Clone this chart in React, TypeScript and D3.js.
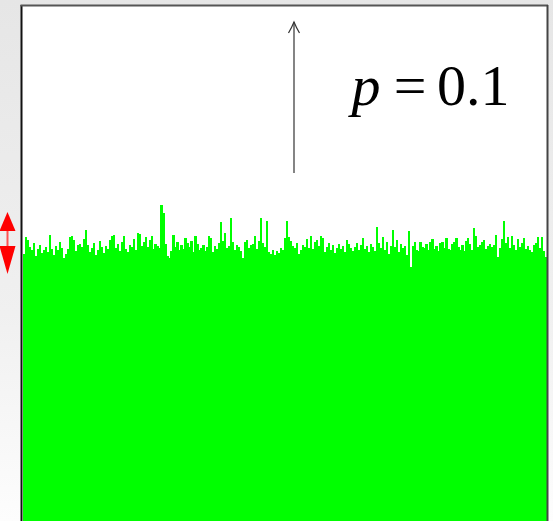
import React from "react";
import * as d3 from "d3";

// Interface height profile h(x), one value per column (2 px columns across the box)
const heights: number[] = [
  267, 284, 281, 274, 271, 278, 265, 272, 276, 268,
  271, 274, 269, 286, 272, 266, 275, 271, 279, 273,
  263, 267, 272, 284, 285, 281, 270, 276, 277, 274,
  282, 291, 276, 269, 273, 278, 266, 271, 280, 274,
  268, 275, 272, 281, 285, 286, 273, 277, 270, 279,
  285, 272, 269, 276, 274, 282, 271, 288, 287, 275,
  279, 284, 274, 281, 285, 272, 277, 275, 273, 316,
  308, 277, 265, 263, 270, 286, 274, 279, 271, 276,
  272, 283, 278, 274, 280, 269, 285, 277, 271, 273,
  276, 270, 274, 285, 283, 269, 275, 272, 278, 299,
  280, 288, 273, 275, 303, 279, 271, 276, 274, 270,
  263, 279, 281, 273, 276, 277, 285, 272, 280, 303,
  278, 274, 300, 269, 267, 271, 266, 270, 268, 273,
  271, 283, 300, 284, 280, 275, 273, 278, 267, 271,
  276, 274, 282, 273, 285, 272, 279, 281, 275, 285,
  283, 269, 274, 278, 271, 276, 268, 273, 277, 272,
  275, 269, 281, 277, 273, 270, 274, 278, 271, 276,
  283, 272, 275, 269, 277, 274, 270, 294, 278, 273,
  284, 271, 279, 267, 275, 291, 274, 281, 269, 277,
  273, 275, 266, 290, 254, 275, 279, 271, 270, 279,
  274, 273, 277, 271, 279, 282, 272, 275, 270, 278,
  279, 273, 283, 272, 271, 277, 279, 283, 274, 271,
  276, 270, 280, 283, 277, 271, 293, 285, 274, 276,
  279, 281, 272, 275, 277, 274, 276, 286, 264, 273,
  282, 300, 278, 284, 273, 285, 276, 271, 282, 274,
  278, 283, 272, 275, 271, 269, 276, 278, 284, 273,
  284, 270, 264,
];

const labelVariable = "p";
const labelOp = "=";
const labelValue = "0.1";

const W = 553;
const H = 521;
const box = { left: 22, right: 547, top: 5, bottom: 521 };

const SERIF =
  "'Times New Roman', Times, 'Liberation Serif', Tinos, 'DejaVu Serif', 'Noto Serif', FreeSerif, 'Nimbus Roman', Georgia, serif";

export default function App() {
  const x = d3
    .scaleBand<number>()
    .domain(d3.range(heights.length))
    .range([box.left + 1, box.right])
    .padding(0);
  const y = d3.scaleLinear().domain([0, 516]).range([box.bottom, box.top]);

  return (
    <div style={{ position: "absolute", left: 0, top: 0 }}>
      <svg width={W} height={H} viewBox={`0 0 ${W} ${H}`} style={{ display: "block" }}>
        <defs>
          <linearGradient id="bg" x1="0" y1="0" x2="0" y2="1">
            <stop offset="0" stopColor="#e6e6e6" />
            <stop offset="0.6" stopColor="#f0f0f0" />
            <stop offset="1" stopColor="#fdfdfd" />
          </linearGradient>
        </defs>
        <rect x={0} y={0} width={W} height={H} fill="url(#bg)" />
        <rect x={box.left} y={box.top} width={box.right - box.left} height={H - box.top} fill="#ffffff" />

        {/* interface columns */}
        <g shapeRendering="crispEdges">
          {heights.map((h, i) => (
            <rect
              key={i}
              x={x(i)!}
              y={y(h)}
              width={x.bandwidth() + 0.2}
              height={box.bottom - y(h)}
              fill="#00ff00"
            />
          ))}
        </g>

        {/* frame */}
        <line x1={box.left - 0.5} y1={box.top} x2={box.left - 0.5} y2={H} stroke="#111" strokeWidth={2} />
        <line x1={box.left - 1.5} y1={box.top + 0.5} x2={box.right + 1} y2={box.top + 0.5} stroke="#555" strokeWidth={2} />
        <line x1={box.right + 0.5} y1={box.top} x2={box.right + 0.5} y2={H} stroke="#444" strokeWidth={2} />

        {/* growth direction arrow */}
        <g stroke="#333" strokeWidth={1.2} fill="none">
          <line x1={294} y1={173} x2={294} y2={22} />
          <path d="M288.5,33 Q292,27 294,22 Q296,27 299.5,33" />
        </g>

        {/* parameter label */}
        <g style={{ fontFamily: SERIF, fontSize: "58px" }} fill="#000">
          <text x={366} y={105} textAnchor="middle" style={{ fontStyle: "italic" }}>
            {labelVariable}
          </text>
          <text x={410} y={105} textAnchor="middle">
            {labelOp}
          </text>
          <text x={437} y={105} textAnchor="start">
            {labelValue}
          </text>
        </g>

        {/* interface width marker */}
        <g>
          <line x1={7.5} y1={226} x2={7.5} y2={260} stroke="#ff5050" strokeWidth={2} />
          <path d="M7.5,212 L15.5,231 L-0.5,231 Z" fill="#ff0000" />
          <path d="M7.5,274 L15.5,246 L-0.5,246 Z" fill="#ff0000" />
        </g>
      </svg>
    </div>
  );
}
